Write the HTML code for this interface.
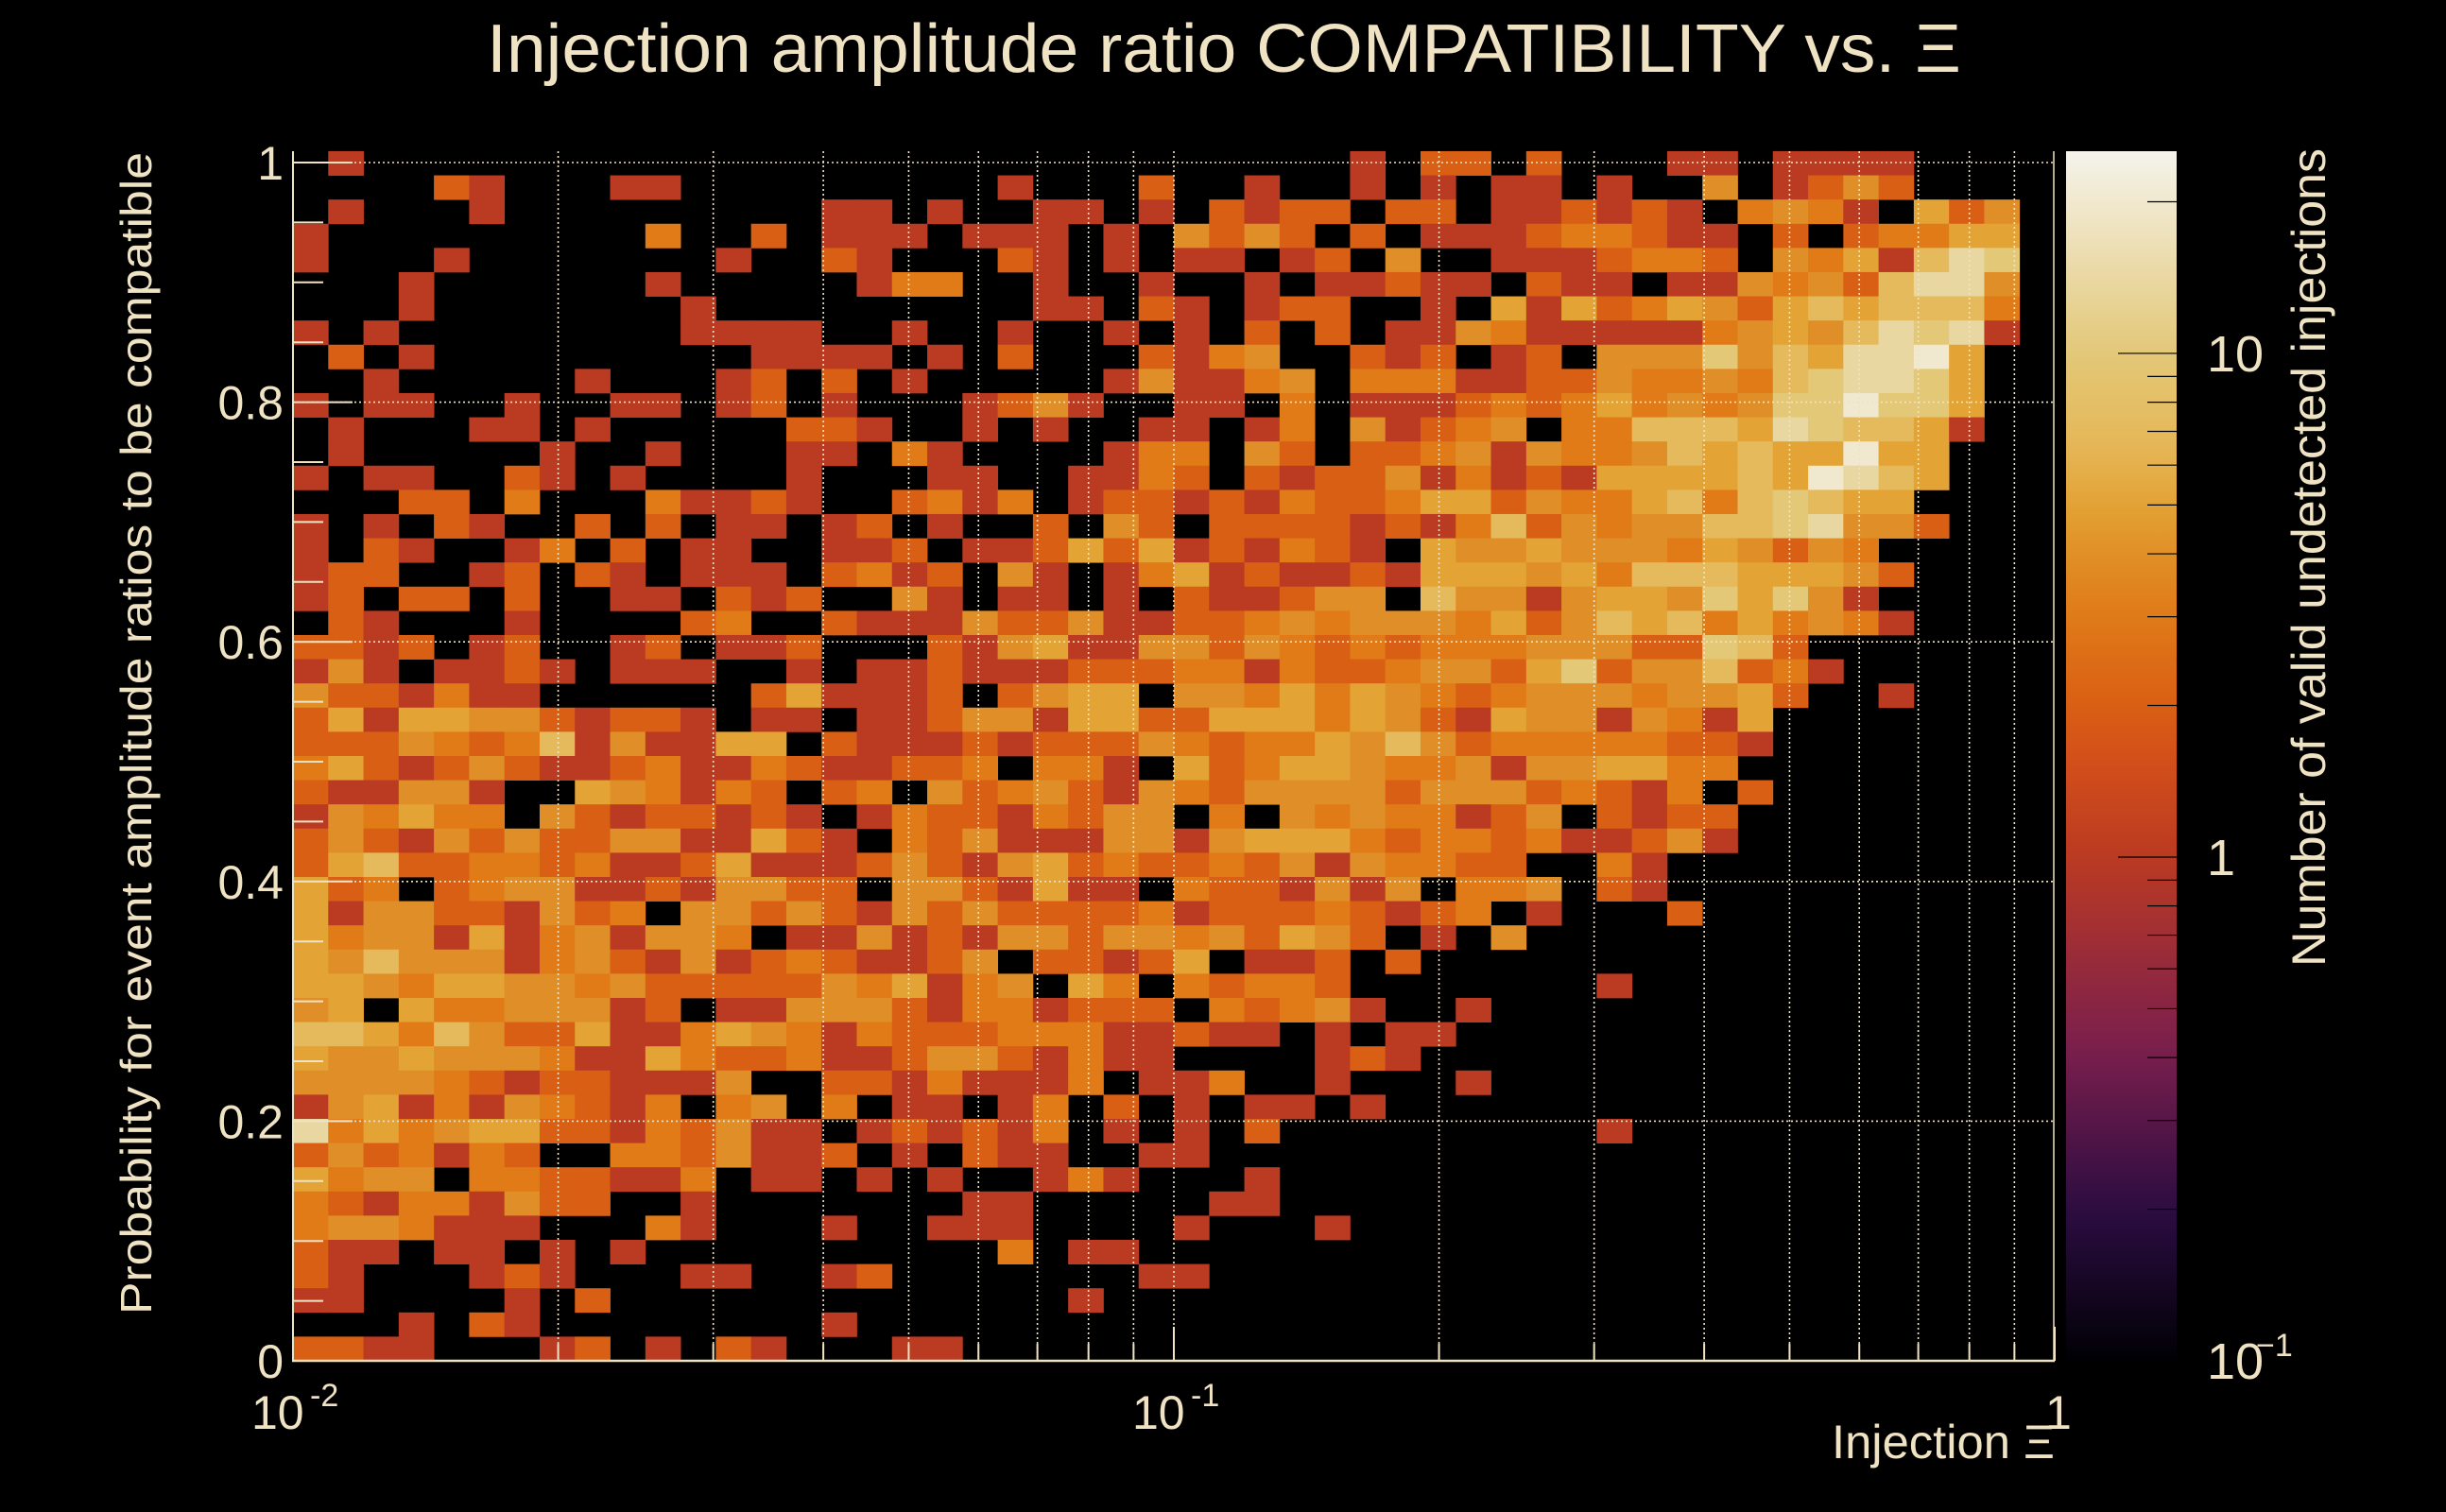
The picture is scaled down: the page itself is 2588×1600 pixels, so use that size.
<!DOCTYPE html>
<html><head><meta charset="utf-8"><style>
html,body{margin:0;padding:0;background:#000;}
svg{display:block;}
text{font-family:"Liberation Sans",Arial,sans-serif;fill:#efe3c3;}
</style></head><body>
<svg id="chart" width="2588" height="1600" viewBox="0 0 2588 1600" xmlns="http://www.w3.org/2000/svg">
<rect x="0" y="0" width="2588" height="1600" fill="#000"/>
<defs><linearGradient id="cbgrad" x1="0" y1="1" x2="0" y2="0"></linearGradient></defs>
<g id="cells"></g>
<g id="grid"></g>
<g id="axes"></g>
<g id="colorbar"></g>
<text x="1295" y="76" font-size="72" text-anchor="middle" textLength="1560" lengthAdjust="spacingAndGlyphs">Injection amplitude ratio COMPATIBILITY vs.  Ξ</text>
<text transform="translate(160,776) rotate(-90)" font-size="46" text-anchor="middle" textLength="1230" lengthAdjust="spacingAndGlyphs">Probability for event amplitude ratios to be compatible</text>
<text x="2174" y="1543" font-size="50" text-anchor="end" textLength="236" lengthAdjust="spacingAndGlyphs">Injection Ξ</text>
<text transform="translate(2460,590) rotate(-90)" font-size="50" text-anchor="middle" textLength="866" lengthAdjust="spacingAndGlyphs">Number of valid undetected injections</text>
</svg>
<script>
// ---- data ----
const xLogMin = -2, xLogMax = 0;          // x axis: 10^-2 .. 1 (log)
const nBinsX = 50, nBinsY = 50;
const yMax = 1.0095;                      // y axis range 0 .. yMax
const zMin = 0.1, zMax = 25.2;            // colour axis (log)
const levelCounts = [0, 1, 2, 3, 4, 5, 7, 10, 14, 20]; // count represented by each digit
const yTickValues = [0, 0.2, 0.4, 0.6, 0.8, 1];
const yTickLabels = ["0", "0.2", "0.4", "0.6", "0.8", "1"];
const xTickBases = ["10", "10", "1"];
const xTickExps = ["-2", "-1", ""];
const xTickValues = [0.01, 0.1, 1];
const cbTickValues = [0.1, 1, 10];
// rows listed top (y≈1) to bottom (y≈0); one digit per x-bin, '.' = empty (5 groups of 10 bins)
const rowSegments = [
[".1........","..........","..........","1.22.2...1","1.1111...."],
["....21...1","1.........","1...2..1..","1.1.11.1..","4.1242...."],
[".1...1....",".....11.1.",".11.1.2122",".22.112121",".3431.524."],
["1.........","3..2.111.1","11.1.4242.","2.11123321","1.2.23355."],
["1...1.....","..1..21...","21.1.11.12",".4..111233","2.4351687."],
["...1......","1.....133.",".1..1..1.1","1211.211.1","143426884."],
["...1......",".1........",".11.21.122","..1.515235","425656663."],
["1.1.......",".1111..1..","1..1.1.2.2",".114311111","345468781."],
[".2.1......","...1111.1.","2...2134..","212.12.444","74658895.."],
["..1.....1.","..12.2.1..","...141134.","3331122433","43678875.."],
["1.11..1..1","1.12.1...1","241..11.3.","1112323534","34779775.."],
[".1...11.1.","....221..1",".1..11.13.","41234.3366","65876651.."],
[".1.....1..","1...11.31.","...133.42.","2234143346","5655955..."],
["1.11..21.1","....1...11","..1132.212","2413121555","5659865..."],
["...22.3...","31121..231","3.12212132","2355243356","367655...."],
["1.1.21..2.","2.11.12.1.",".2.42.2222","1213624344","6678442..."],
["1.21..13.2",".11..112.1","1252512132","1.54454443","54243....."],
["122..12.21",".111.2312.","41.1351211","2155545366","655542...."],
["12.22.2..1","1.212..41.","11.1.21124","4.64414554","75741....."],
[".21...1...",".23..21114","2241122343","4443524656","353431...."],
["2212.12..1","2.112...21","4511442432","3233344422","762......."],
["141.1121.1","11..1.1121","1122233132","2344257244","6231......"],
["4221311...","...251112.","2455.44353","5432344434","452..1...."],
["2515544212","21.11.1124","4155225553","5421544143","15........"],
["2224323614","1155.21112","1222432335","4642333332","21........"],
["3521242112","3113211223",".331.52355","4334144553","3........."],
["211441..54","3132.23.42","3421432444","4244423213",".2........"],
["143533.421","22121.1322","13244.3.43","433124.212","2........."],
["2421424224","411521.324","1114414555","3233231124","1........."],
["2562233231","1251112421","4523223241","43322..31.",".........."],
["523.234411","214422.442","1511.32214","14.334.21.",".........."],
["5144221423",".442421424","2222312223","2123.1...2",".........."],
["5344151341","443.114121","4424434254","2.1.4.....",".........."],
["5464441342","1412321124",".22125.112",".2........",".........."],
["5543554434","2222243513","4.53.32332",".......1..",".........."],
["45.5334441","2.11444213","31222.3234","1..1......",".........."],
["6653642251","1354313222","33311211.1",".11.......",".........."],
["5445444311","5322311244","21311....1","21........",".........."],
["4444321221","114..22131","113.113..1","...1......",".........."],
["1451314321","3.34.3.11.","13.2.1.11.","1.........",".........."],
["8353455221","32411.1212","13.1.1.2..",".......1..",".........."],
["2423132..3","324112.1.2","11..11....","..........",".........."],
["5344.33221","13.11.1.1.",".131...1..","..........",".........."],
["321331422.",".1.......1","1.....11..","..........",".........."],
["3443111...","31...1..11","1....1...1","..........",".........."],
["211.11.1.1","..........","3.11......","..........",".........."],
["21...121..",".11..12...","....11....","..........",".........."],
["11....1.2.","..........","..1.......","..........",".........."],
["...1.21...",".....1....","..........","..........",".........."],
["2211...12.","1.21...11.","..........","..........",".........."]
];
const rows = rowSegments.map(s => s.join(""));
</script>
<script>
const NS = "http://www.w3.org/2000/svg";
const PX0 = 310, PX1 = 2174, PY0 = 1440, PY1 = 172;
function xScale(v){ return PX0 + (Math.log10(v) - xLogMin) / (xLogMax - xLogMin) * (PX1 - PX0); }
function yScale(v){ return PY0 - v * (PY0 - PY1); }
function cbScale(c){ return 1440 - Math.log10(c / zMin) / Math.log10(zMax / zMin) * 1280; }
const stops = [[0,"#000004"],[0.12,"#2a0c40"],[0.26,"#7b1f4d"],[0.417,"#bb3a22"],[0.5,"#d4501a"],[0.542,"#d95f14"],[0.616,"#e07b18"],[0.668,"#e08f28"],[0.708,"#e3a335"],[0.76,"#e5b85a"],[0.833,"#e3c878"],[0.9,"#ead9a6"],[1,"#f5f3ec"]];
function hex(h){return [parseInt(h.substr(1,2),16),parseInt(h.substr(3,2),16),parseInt(h.substr(5,2),16)];}
function cmap(f){
  f = Math.max(0, Math.min(1, f));
  for (let i = 1; i < stops.length; i++) {
    if (f <= stops[i][0]) {
      const a = stops[i-1], b = stops[i], t = (f - a[0]) / (b[0] - a[0]);
      const ca = hex(a[1]), cb = hex(b[1]);
      return "rgb(" + ca.map((v,k)=>Math.round(v + (cb[k]-v)*t)).join(",") + ")";
    }
  }
  return stops[stops.length-1][1];
}
function colorFor(c){ return cmap(Math.log10(c / zMin) / Math.log10(zMax / zMin)); }
function mk(tag, attrs, parent){ const e = document.createElementNS(NS, tag); for (const k in attrs) e.setAttribute(k, attrs[k]); parent.appendChild(e); return e; }

// cells
const cellsG = document.getElementById("cells");
const yBw = yMax / nBinsY;
for (let r = 0; r < rows.length; r++) {
  const row = rows[r];
  const j = nBinsY - 1 - r;
  const yLo = j * yBw, yHi = (j + 1) * yBw;
  for (let c = 0; c < nBinsX && c < row.length; c++) {
    const ch = row[c];
    if (ch === ".") continue;
    const count = levelCounts[parseInt(ch, 10)];
    if (!count) continue;
    const xLo = Math.pow(10, xLogMin + (xLogMax - xLogMin) * c / nBinsX);
    const xHi = Math.pow(10, xLogMin + (xLogMax - xLogMin) * (c + 1) / nBinsX);
    const x0 = xScale(xLo), x1 = xScale(xHi), y0 = yScale(yHi), y1 = yScale(yLo);
    const rect = mk("rect", {x: x0.toFixed(2), y: y0.toFixed(2), width: (x1 - x0 + 0.4).toFixed(2), height: (y1 - y0 + 0.4).toFixed(2), fill: colorFor(count)}, cellsG);
    
    
  }
}

// grid
const gridG = document.getElementById("grid");
for (let d = -2; d < 0; d++) {
  for (let m = 1; m <= 9; m++) {
    if (m === 1 && d === -2) continue;
    const x = xScale(m * Math.pow(10, d));
    const l = mk("line", {x1: x, x2: x, y1: 160, y2: 1440, stroke: "#efe3c3", "stroke-width": 1.6, "stroke-dasharray": "2 3"}, gridG);
    
    
  }
}
for (let i = 1; i < yTickValues.length; i++) {
  const y = yScale(yTickValues[i]);
  const l = mk("line", {x1: 310, x2: 2174, y1: y, y2: y, stroke: "#efe3c3", "stroke-width": 1.6, "stroke-dasharray": "2 3"}, gridG);
  
  
}

// axes
const axG = document.getElementById("axes");
let ln = mk("line", {x1: 310, x2: 310, y1: 160, y2: 1440, stroke: "#efe3c3", "stroke-width": 2}, axG);


ln = mk("line", {x1: 309, x2: 2174, y1: 1440, y2: 1440, stroke: "#efe3c3", "stroke-width": 2.5}, axG);


ln = mk("line", {x1: 2173, x2: 2173, y1: 160, y2: 1440, stroke: "#efe3c3", "stroke-width": 1.5}, axG);


for (let k = 0; k <= 20; k++) {
  const y = yScale(k * 0.05);
  const major = (k % 4 === 0);
  const t = mk("line", {x1: 310, x2: 310 + (major ? 63 : 32), y1: y, y2: y, stroke: "#efe3c3", "stroke-width": 2}, axG);
  
  
}
for (let i = 0; i < yTickValues.length; i++) {
  const t = mk("text", {x: 300, y: yScale(yTickValues[i]) + 18, "font-size": 50, "text-anchor": "end"}, axG);
  t.textContent = yTickLabels[i];
  
  
}
for (let d = -2; d <= 0; d++) {
  for (let m = 1; m <= 9; m++) {
    if (d === 0 && m > 1) break;
    const x = xScale(m * Math.pow(10, d));
    const t = mk("line", {x1: x, x2: x, y1: 1440, y2: 1440 - (m === 1 ? 36 : 18), stroke: "#efe3c3", "stroke-width": 2}, axG);
    
    
  }
}
for (let i = 0; i < xTickValues.length; i++) {
  const x = xScale(xTickValues[i]);
  const t = mk("text", {x: xTickExps[i] ? x - 44 : x - 10, y: 1512, "font-size": 50}, axG);
  t.textContent = xTickBases[i];
  
  
  if (xTickExps[i]) {
    const s = mk("text", {x: x + 18, y: 1488, "font-size": 34}, axG);
    s.textContent = xTickExps[i];
    
    
  }
}

// colorbar
const grad = document.getElementById("cbgrad");
for (let i = 0; i <= 40; i++) {
  const f = i / 40;
  const s = document.createElementNS(NS, "stop");
  s.setAttribute("offset", f);
  s.setAttribute("stop-color", cmap(f));
  grad.appendChild(s);
}
const cbG = document.getElementById("colorbar");
const bar = mk("rect", {x: 2186, y: 160, width: 117, height: 1280, fill: "url(#cbgrad)"}, cbG);


for (let d = -1; d <= 1; d++) {
  for (let m = 1; m <= 9; m++) {
    const v = m * Math.pow(10, d);
    if (v <= zMin || v > zMax) continue;
    const y = cbScale(v);
    const t = mk("line", {x1: 2303 - (m === 1 ? 62 : 31), x2: 2303, y1: y, y2: y, stroke: "#000", "stroke-width": 1.2}, cbG);
    
    
  }
}
const cbLabels = [["10","−1"],["1",""],["10",""]];
for (let i = 0; i < cbTickValues.length; i++) {
  const y = Math.min(cbScale(cbTickValues[i]) + 19, 1462);
  const t = mk("text", {x: 2335, y: y, "font-size": 54}, cbG);
  t.textContent = cbLabels[i][0];
  
  
  if (cbLabels[i][1]) {
    const s = mk("text", {x: 2387, y: y - 24, "font-size": 34}, cbG);
    s.textContent = cbLabels[i][1];
    
    
  }
}
</script>
</body></html>
